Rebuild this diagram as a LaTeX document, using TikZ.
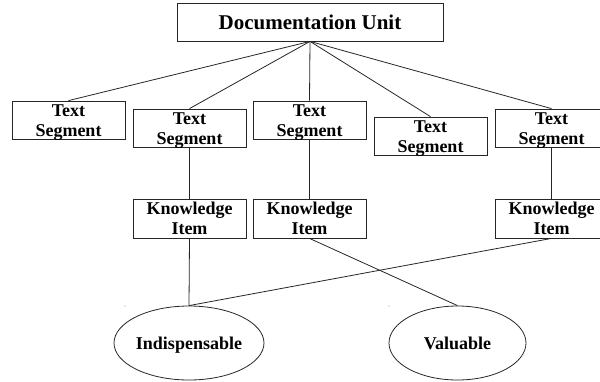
\documentclass[tikz,border=0pt]{standalone}
\usepackage{fontspec}
\setmainfont{Liberation Serif}
\usetikzlibrary{shapes.geometric}
\begin{document}
\begin{tikzpicture}[x=1pt,y=-1pt,
  label font/.style={font=\fontsize{18}{20}\selectfont\bfseries},
  box/.style={draw=black!85,line width=0.8pt,rectangle,inner sep=0pt,
    minimum width=113pt,align=center,label font},
  segbox/.style={box,minimum height=38pt},
  segtext/.style={inner sep=0pt,align=center,label font},
  itembox/.style={box,minimum height=39pt},
  oval/.style={draw=black!85,line width=0.8pt,ellipse,inner sep=0pt,
    minimum height=74pt,text height=12.4pt,text depth=0pt,label font},
  link/.style={draw=black!85,line width=0.8pt}]
\useasboundingbox (0,0) rectangle (600,381);
\clip (0,0) rectangle (600,381);

% root
\node[draw=black!85,line width=0.8pt,minimum width=266pt,minimum height=38pt,
  inner sep=0pt,font=\fontsize{21}{24}\selectfont\bfseries] (doc) at (310,22)
  {Documentation Unit};

% text segments: frames, then their two-line captions set a little low
\node[segbox] (ts1) at (68.5,120)  {};
\node[segbox] (ts2) at (189.5,128) {};
\node[segbox] (ts3) at (309.5,120) {};
\node[segbox] (ts4) at (430.5,136) {};
\node[segbox] (ts5) at (551.5,128) {};
\foreach \t in {ts1,ts2,ts3,ts4,ts5}
  \node[segtext] (\t-txt) at ([yshift=-3pt]\t.center) {Text\\Segment};

% knowledge items
\node[itembox] (ki1) at (189.5,218.5) {Knowledge\\Item};
\node[itembox] (ki2) at (309.5,218.5) {Knowledge\\Item};
\node[itembox] (ki3) at (551.5,218.5) {Knowledge\\Item};

% ratings
\node[oval,minimum width=129pt] (ind) at (189,343) {Indispensable};
\node[oval,minimum width=137pt] (val) at (457.5,343) {Valuable};

% connectors
\foreach \t in {ts1,ts2,ts3,ts4,ts5}
  \path[link] (doc.south) -- (\t.north);
\path[link] (ts2.south) -- (ki1.north);
\path[link] (ts3.south) -- (ki2.north);
\path[link] (ts5.south) -- (ki3.north);
\path[link] (ki1.south) -- (ind.north);
\path[link] (ki3.south) -- (ind.north);
\path[link] (ki2.south) -- (val.north);

% small specks
\fill[black!40] (125,306) circle (0.6);
\fill[black!40] (389,306) circle (0.6);
\end{tikzpicture}
\end{document}
